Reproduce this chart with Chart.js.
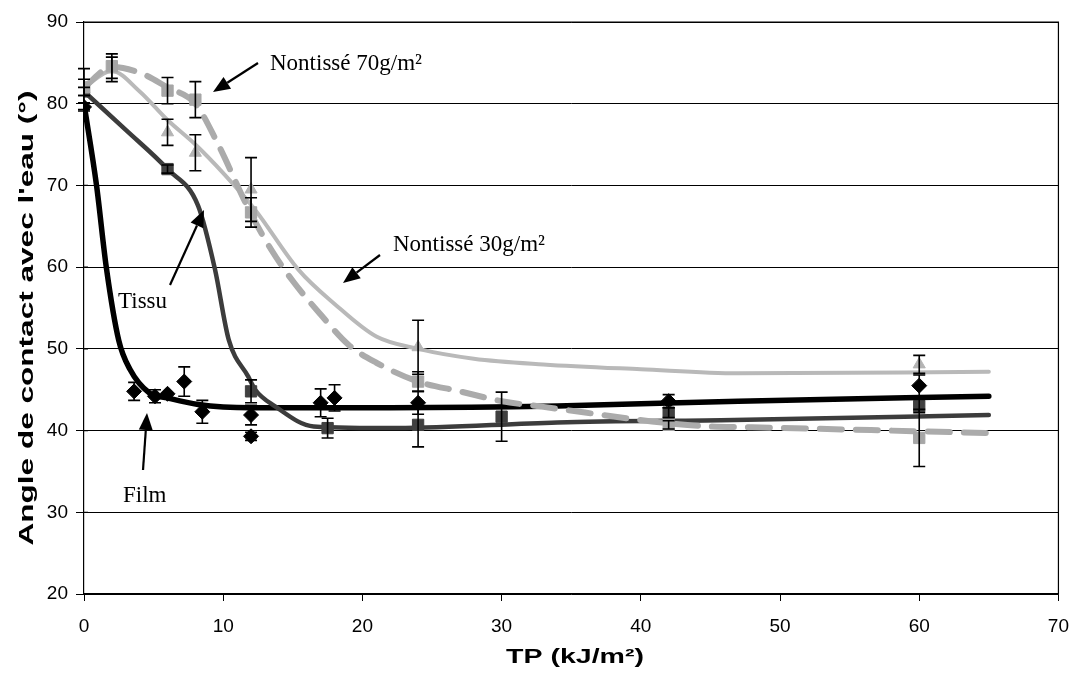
<!DOCTYPE html>
<html><head><meta charset="utf-8">
<script src="https://cdn.jsdelivr.net/npm/chart.js@4.4.0/dist/chart.umd.min.js"></script>
<style>html,body{margin:0;padding:0;background:#fff}#wrap{width:1083px;height:679px}</style>
</head><body><div id="wrap"><canvas id="c" width="1083" height="679"></canvas></div>
<script>
// ---- tick values ----
const xTickValues = [0, 10, 20, 30, 40, 50, 60, 70];
const yTickValues = [20, 30, 40, 50, 60, 70, 80, 90];

// ---- Film (black diamonds) ----
const filmX   = [0, 3.6, 5.1, 6.0, 7.2, 8.5, 12, 12, 17, 18, 24, 42, 60];
const filmY   = [79.6, 44.8, 44.2, 44.5, 46.0, 42.3, 41.9, 39.3, 43.4, 44.0, 43.4, 43.6, 45.5];
const filmErr = [0.5, 1.1, 0.8, 0, 1.8, 1.4, 1.2, 0.5, 1.7, 1.6, 1.4, 0.8, 1.3];
const filmFitX = [0, 0.9, 1.6, 2.5, 3.3, 4.7, 6, 8.2, 12, 22, 34, 47, 65];
const filmFitY = [80, 70, 60, 51, 47.5, 44.6, 44, 43.2, 42.8, 42.8, 43.0, 43.6, 44.2];

// ---- Tissu (dark squares) ----
const tissuX   = [0, 6, 12, 17.5, 24, 30, 42, 60];
const tissuY   = [81.5, 72.0, 44.8, 40.3, 40.7, 41.7, 42.2, 43.0];
const tissuErr = [0.5, 0.5, 1.4, 1.2, 2.7, 3.0, 0.6, 0.8];
const tissuFitX = [0, 3, 6, 8.2, 9.4, 10.4, 11.8, 12.3, 13.7, 16.5, 22.5, 34, 46.7, 65];
const tissuFitY = [81.5, 76.8, 72, 67.5, 59.8, 51.1, 46.6, 45, 43, 40.5, 40.3, 41.0, 41.3, 41.9];

// ---- Nontissé 70 g/m² (light squares, dashed) ----
const n70X   = [0, 2, 6, 8, 12, 24, 42, 60];
const n70Y   = [82.0, 84.6, 81.6, 80.5, 66.7, 46.0, 40.7, 39.1];
const n70Err = [1.0, 1.5, 1.6, 2.2, 1.8, 1.2, 0.5, 3.5];
const n70FitX = [0, 2, 4, 6, 8, 9.5, 12, 13.5, 15, 17, 19, 21, 24, 27, 30, 33, 36, 39, 42, 45, 48, 65];
const n70FitY = [82, 84.5, 83.8, 82, 80, 75.5, 66.5, 62, 58.3, 54.2, 50.5, 48.3, 46, 44.8, 43.6, 42.9, 42.2, 41.5, 40.9, 40.5, 40.4, 39.7];

// ---- Nontissé 30 g/m² (light triangles, solid) ----
const n30X   = [0, 2, 6, 8, 12, 24, 60];
const n30Y   = [81.8, 84.2, 76.5, 74.0, 69.5, 50.2, 48.1];
const n30Err = [2.5, 1.5, 1.6, 2.2, 3.9, 3.3, 1.1];
const n30FitX = [0, 2, 4, 6, 8, 10, 12.3, 15.4, 18, 21, 24, 28, 33, 40, 47, 65];
const n30FitY = [82, 84, 81.5, 78, 75, 71.5, 67, 59.7, 55.5, 51.5, 50, 48.8, 48.1, 47.5, 47.0, 47.2];

const pts = (xs, ys) => xs.map((x, i) => ({x: x, y: ys[i]}));

const fitStyle = (color, width, dash) => ({
  type: 'line', showLine: true, pointRadius: 0, borderColor: color, borderWidth: width,
  borderDash: dash || [], cubicInterpolationMode: 'monotone', fill: false, order: 2,
  borderCapStyle: 'round', borderJoinStyle: 'round'
});
const markStyle = (color, style, r, err) => ({
  type: 'scatter', showLine: false, pointStyle: style, pointRadius: r, pointBackgroundColor: color,
  pointBorderColor: color, pointBorderWidth: 1, order: 1, errors: err
});

const datasets = [
  Object.assign({label: 'fit N70', data: pts(n70FitX, n70FitY)}, fitStyle('#ababab', 6, [22, 14])),
  Object.assign({label: 'fit N30', data: pts(n30FitX, n30FitY)}, fitStyle('#b9b9b9', 4)),
  Object.assign({label: 'fit Tissu', data: pts(tissuFitX, tissuFitY)}, fitStyle('#3c3c3c', 4.5)),
  Object.assign({label: 'fit Film', data: pts(filmFitX, filmFitY)}, fitStyle('#000000', 5.5)),
  Object.assign({label: 'Nontissé 70g/m²', data: pts(n70X, n70Y)}, markStyle('#a6a6a6', 'rect', 8, n70Err)),
  Object.assign({label: 'Nontissé 30g/m²', data: pts(n30X, n30Y)}, markStyle('#b4b4b4', 'triangle', 7, n30Err)),
  Object.assign({label: 'Tissu', data: pts(tissuX, tissuY)}, markStyle('#404040', 'rect', 8, tissuErr)),
  Object.assign({label: 'Film', data: pts(filmX, filmY)}, markStyle('#000000', 'rectRot', 7.5, filmErr))
];

const errorBars = {
  id: 'errorBars',
  afterDatasetsDraw(chart) {
    const ctx = chart.ctx, xs = chart.scales.x, ys = chart.scales.y;
    ctx.save();
    ctx.strokeStyle = '#000'; ctx.lineWidth = 1.6;
    chart.data.datasets.forEach(ds => {
      if (!ds.errors) return;
      ds.data.forEach((p, i) => {
        const e = ds.errors[i]; if (!e) return;
        const px = xs.getPixelForValue(p.x);
        const top = ys.getPixelForValue(p.y + e), bot = ys.getPixelForValue(p.y - e);
        ctx.beginPath();
        ctx.moveTo(px, top); ctx.lineTo(px, bot);
        ctx.moveTo(px - 6, top); ctx.lineTo(px + 6, top);
        ctx.moveTo(px - 6, bot); ctx.lineTo(px + 6, bot);
        ctx.stroke();
      });
    });
    ctx.restore();
  }
};

const frame = {
  id: 'frame',
  beforeDatasetsDraw(chart) {
    const {ctx, chartArea: a} = chart;
    const ys = chart.scales.y;
    ctx.save(); ctx.strokeStyle = '#000'; ctx.lineWidth = 1.2;
    ctx.beginPath();
    ctx.moveTo(a.left, a.top); ctx.lineTo(a.right, a.top); ctx.lineTo(a.right, a.bottom);
    // y ticks crossing into the plot
    yTickValues.forEach(v => { const py = ys.getPixelForValue(v); ctx.moveTo(a.left, py); ctx.lineTo(a.left + 4, py); });
    ctx.stroke(); ctx.restore();
  }
};

function arrow(ctx, x1, y1, x2, y2) {
  const ang = Math.atan2(y2 - y1, x2 - x1), L = 17, W = 7;
  const bx = x2 - L * Math.cos(ang), by = y2 - L * Math.sin(ang);
  ctx.beginPath(); ctx.moveTo(x1, y1); ctx.lineTo(bx, by); ctx.stroke();
  ctx.beginPath();
  ctx.moveTo(x2, y2);
  ctx.lineTo(bx + W * Math.sin(ang), by - W * Math.cos(ang));
  ctx.lineTo(bx - W * Math.sin(ang), by + W * Math.cos(ang));
  ctx.closePath(); ctx.fill();
}

const notes = {
  id: 'notes',
  afterDraw(chart) {
    const ctx = chart.ctx;
    ctx.save();
    ctx.fillStyle = '#000'; ctx.strokeStyle = '#000'; ctx.lineWidth = 2.2;
    ctx.font = '23px "Liberation Serif", "Times New Roman", serif';
    ctx.textBaseline = 'alphabetic'; ctx.textAlign = 'left';
    ctx.fillText('Nontissé 70g/m²', 270, 70);
    arrow(ctx, 258, 63, 213, 92);
    ctx.fillText('Nontissé 30g/m²', 393, 251);
    arrow(ctx, 380, 255, 343, 283);
    ctx.fillText('Tissu', 118, 308);
    arrow(ctx, 170, 285, 204, 210);
    ctx.fillText('Film', 123, 502);
    arrow(ctx, 143, 470, 147, 413);

    // axis titles
    ctx.font = 'bold 20px "Liberation Sans", Arial, sans-serif';
    ctx.textAlign = 'center'; ctx.textBaseline = 'middle';
    const yt = "Angle de contact avec l'eau (°)";
    const wy = ctx.measureText(yt).width;
    ctx.save(); ctx.translate(27, 318); ctx.rotate(-Math.PI / 2);
    ctx.scale(455 / wy, 1.05); ctx.fillText(yt, 0, 0); ctx.restore();
    const xt = 'TP (kJ/m²)';
    const wx = ctx.measureText(xt).width;
    ctx.save(); ctx.translate(575, 657); ctx.scale(138 / wx, 1.05); ctx.fillText(xt, 0, 0); ctx.restore();
    ctx.restore();
  }
};

new Chart(document.getElementById('c'), {
  type: 'scatter',
  data: {datasets: datasets},
  options: {
    responsive: false, animation: false, devicePixelRatio: 1,
    layout: {padding: {top: 22, right: 16, left: 0, bottom: 0}},
    plugins: {legend: {display: false}, tooltip: {enabled: false}},
    scales: {
      x: {
        type: 'linear', min: 0, max: 70,
        afterBuildTicks: s => { s.ticks = xTickValues.map(v => ({value: v})); },
        afterFit: s => { s.height = 85; },
        ticks: {color: '#000', padding: 14, font: {family: '"Liberation Sans", Arial, sans-serif', size: 19}, maxRotation: 0},
        grid: {drawOnChartArea: false, tickLength: 7, color: '#000', lineWidth: 1},
        border: {display: true, color: '#000', width: 1.2}
      },
      y: {
        type: 'linear', min: 20, max: 90,
        afterBuildTicks: s => { s.ticks = yTickValues.map(v => ({value: v})); },
        afterFit: s => { s.width = 84; },
        ticks: {color: '#000', padding: 8, font: {family: '"Liberation Sans", Arial, sans-serif', size: 19}},
        grid: {color: '#000', lineWidth: 1, tickLength: 8},
        border: {display: true, color: '#000', width: 1.2}
      }
    }
  },
  plugins: [frame, errorBars, notes]
});
</script>
</body></html>
